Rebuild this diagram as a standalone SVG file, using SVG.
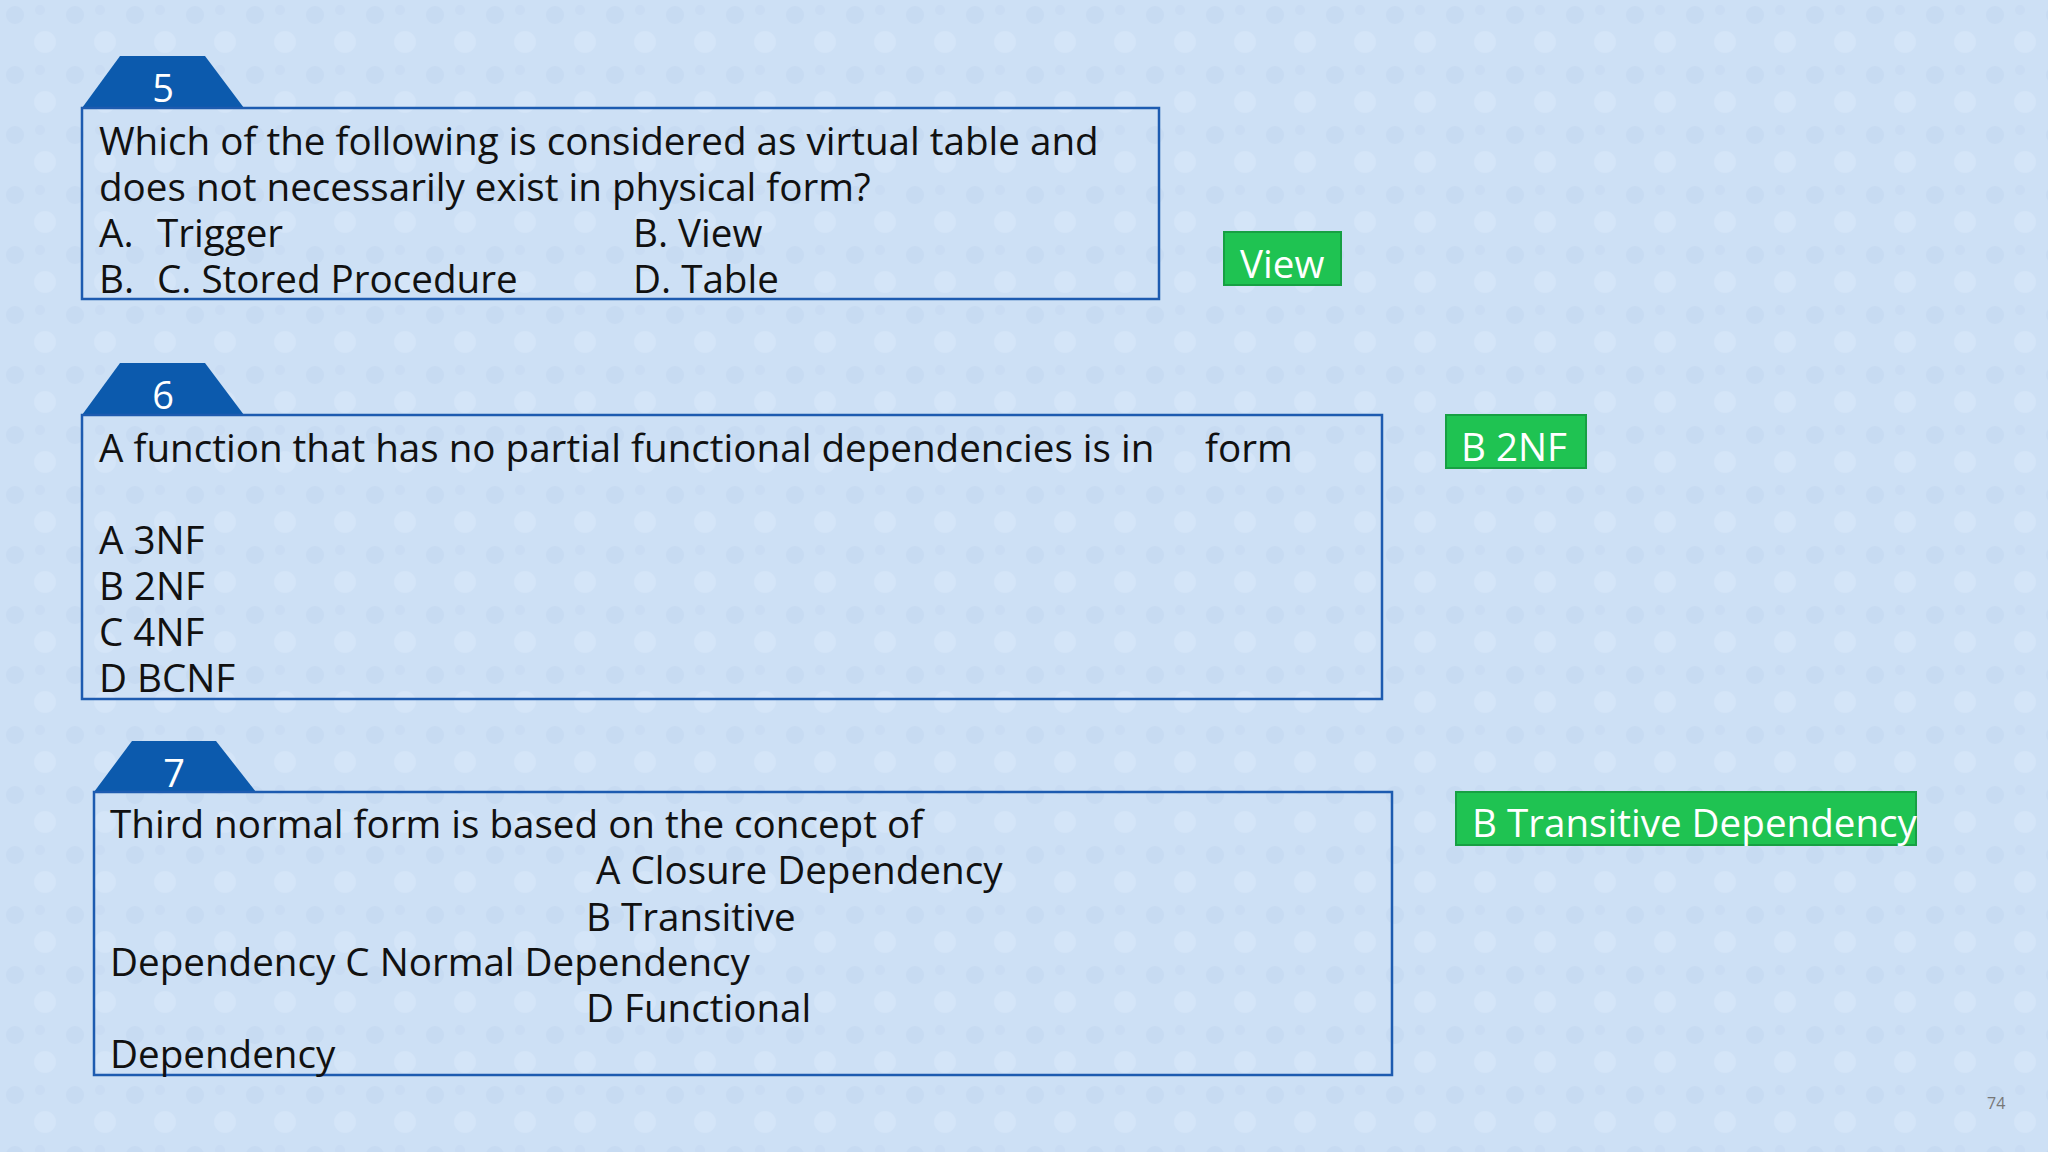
<svg xmlns="http://www.w3.org/2000/svg" width="2048" height="1152" viewBox="0 0 2048 1152">
<style>
.t{font-family:"Open Sans","Noto Sans",sans-serif;font-size:38.6px;fill:#111}
.box{fill:none;stroke:#1d5bb0;stroke-width:2.5}
.tab{fill:#0c5aad}
.n{font-family:"Open Sans","Noto Sans",sans-serif;font-size:38px;fill:#fff;text-anchor:middle}
.ans{fill:#1fc352;stroke:#17a043;stroke-width:2}
.a{font-family:"Open Sans","Noto Sans",sans-serif;font-size:38.6px;fill:#fff}
</style>
<defs>
<pattern id="bg" width="60" height="60" patternUnits="userSpaceOnUse">
<rect width="60" height="60" fill="#cde0f5"/>
<circle cx="15" cy="15" r="9" fill="#c7dbf2"/>
<circle cx="45" cy="42" r="11" fill="#d4e5f8"/>
<circle cx="40" cy="10" r="5" fill="#c9dcf3"/>
</pattern>
</defs>
<rect width="2048" height="1152" fill="url(#bg)"/>
<g id="q5">
<polygon class="tab" points="82,108 244,108 205,56 120,56"/>
<text class="n" x="163" y="102">5</text>
<rect class="box" x="82" y="108" width="1077" height="191"/>
<text class="t" x="99" y="155">Which of the following is considered as virtual table and</text>
<text class="t" x="99" y="201">does not necessarily exist in physical form?</text>
<text class="t" x="99" y="247">A.</text><text class="t" x="157" y="247">Trigger</text>
<text class="t" x="633" y="247">B. View</text>
<text class="t" x="99" y="293">B.</text><text class="t" x="157" y="293">C. Stored Procedure</text>
<text class="t" x="633" y="293">D. Table</text>
</g>
<g id="a5"><rect class="ans" x="1224" y="232" width="117" height="53"/><text class="a" x="1240" y="278">View</text></g>
<g id="q6">
<polygon class="tab" points="82,415 244,415 205,363 120,363"/>
<text class="n" x="163" y="409">6</text>
<rect class="box" x="82" y="415" width="1300" height="284"/>
<text class="t" x="99" y="462">A function that has no partial functional dependencies is in</text>
<text class="t" x="1205" y="462">form</text>
<text class="t" x="99" y="554">A 3NF</text>
<text class="t" x="99" y="600">B 2NF</text>
<text class="t" x="99" y="646">C 4NF</text>
<text class="t" x="99" y="692">D BCNF</text>
</g>
<g id="a6"><rect class="ans" x="1446" y="415" width="140" height="53"/><text class="a" x="1461" y="461">B 2NF</text></g>
<g id="q7">
<polygon class="tab" points="94,792 256,792 216,741 132,741"/>
<text class="n" x="174" y="787">7</text>
<rect class="box" x="94" y="792" width="1298" height="283"/>
<text class="t" x="110" y="838">Third normal form is based on the concept of</text>
<text class="t" x="596" y="884">A Closure Dependency</text>
<text class="t" x="586" y="931">B Transitive</text>
<text class="t" x="110" y="976">Dependency C Normal Dependency</text>
<text class="t" x="586" y="1022">D Functional</text>
<text class="t" x="110" y="1068">Dependency</text>
</g>
<g id="a7"><rect class="ans" x="1456" y="792" width="460" height="53"/><text class="a" x="1472" y="837">B Transitive Dependency</text></g>
<g id="connectors"/>
<text x="1987" y="1109" style="font-family:'Open Sans',sans-serif;font-size:16px;fill:#777">74</text>
</svg>
